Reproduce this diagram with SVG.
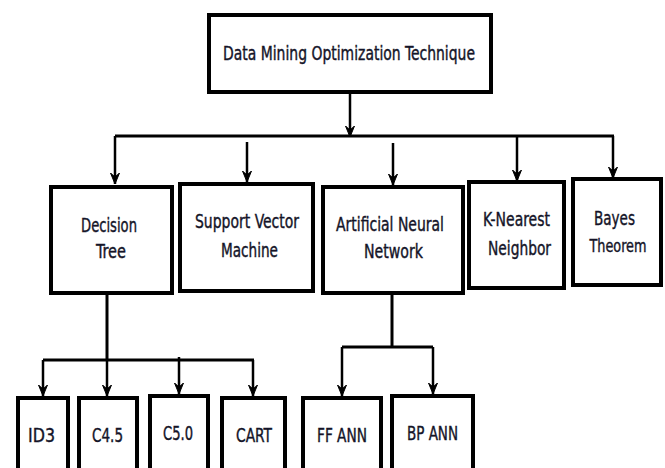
<svg xmlns="http://www.w3.org/2000/svg" width="665" height="468" viewBox="0 0 665 468">
<style>
.box{fill:#fff;stroke:#000;stroke-width:4}
.t{font-family:"DejaVu Sans Condensed","DejaVu Sans",sans-serif;font-size:20px;fill:#141428;text-anchor:middle;stroke:#141428;stroke-width:0.4}
.ln{fill:none;stroke:#000;stroke-width:3}
.ar{fill:none;stroke:#000;stroke-width:2.5;marker-end:url(#ah)}
</style>
<defs>
<marker id="ah" markerUnits="userSpaceOnUse" markerWidth="12" markerHeight="12" viewBox="0 -6 12 12" refX="11" refY="0" orient="auto">
<path d="M0,-4.5 L11,0 L0,4.5 L4,0 Z" fill="#000" stroke="#000" stroke-width="1"/>
</marker>
</defs>
<rect width="665" height="468" fill="#fff"/>
<g id="connectors">
<line class="ar" x1="350" y1="92" x2="350" y2="137"/>
<line class="ln" x1="115" y1="136" x2="614" y2="136"/>
<line class="ar" x1="115" y1="136" x2="115" y2="184"/>
<line class="ar" x1="247" y1="142" x2="247" y2="182"/>
<line class="ar" x1="393" y1="143" x2="393" y2="185"/>
<line class="ar" x1="517" y1="136" x2="517" y2="181"/>
<line class="ar" x1="613" y1="136" x2="613" y2="178"/>
<line class="ln" x1="107" y1="293" x2="107" y2="360"/>
<line class="ln" x1="43" y1="360" x2="254" y2="360"/>
<line class="ar" x1="43" y1="360" x2="43" y2="396"/>
<line class="ar" x1="107" y1="360" x2="107" y2="396"/>
<line class="ar" x1="179" y1="357" x2="179" y2="394"/>
<line class="ar" x1="253" y1="360" x2="253" y2="396"/>
<line class="ln" x1="392" y1="293" x2="392" y2="347"/>
<line class="ln" x1="342" y1="347" x2="433" y2="347"/>
<line class="ar" x1="342" y1="347" x2="342" y2="396"/>
<line class="ar" x1="433" y1="347" x2="433" y2="394"/>
</g>
<g id="root"><rect class="box" x="209" y="15" width="282" height="77"/><text class="t" x="349" y="60" textLength="252" lengthAdjust="spacingAndGlyphs">Data Mining Optimization Technique</text></g>
<g id="decision-tree"><rect class="box" x="51" y="187" width="121" height="106"/><text class="t" x="109" y="232" textLength="56" lengthAdjust="spacingAndGlyphs">Decision</text><text class="t" x="111" y="258" textLength="30" lengthAdjust="spacingAndGlyphs">Tree</text></g>
<g id="svm"><rect class="box" x="180" y="184" width="133" height="107"/><text class="t" x="247" y="228" textLength="104" lengthAdjust="spacingAndGlyphs">Support Vector</text><text class="t" x="249.5" y="257" textLength="57" lengthAdjust="spacingAndGlyphs">Machine</text></g>
<g id="ann"><rect class="box" x="323" y="187" width="140" height="106"/><text class="t" x="390" y="231" textLength="108" lengthAdjust="spacingAndGlyphs">Artificial Neural</text><text class="t" x="393.5" y="258" textLength="59" lengthAdjust="spacingAndGlyphs">Network</text></g>
<g id="knn"><rect class="box" x="469" y="182" width="95" height="106"/><text class="t" x="516.5" y="226" textLength="67" lengthAdjust="spacingAndGlyphs">K-Nearest</text><text class="t" x="519.5" y="255" textLength="63" lengthAdjust="spacingAndGlyphs">Neighbor</text></g>
<g id="bayes"><rect class="box" x="573" y="179" width="88" height="106"/><text class="t" x="614.5" y="225" textLength="41" lengthAdjust="spacingAndGlyphs">Bayes</text><text class="t" x="618" y="252" style="font-size:18px" textLength="57" lengthAdjust="spacingAndGlyphs">Theorem</text></g>
<g id="id3"><rect class="box" x="18" y="398" width="50" height="80"/><text class="t" x="41.5" y="442" textLength="27" lengthAdjust="spacingAndGlyphs">ID3</text></g>
<g id="c45"><rect class="box" x="79" y="398" width="58" height="80"/><text class="t" x="107.5" y="442" textLength="31" lengthAdjust="spacingAndGlyphs">C4.5</text></g>
<g id="c50"><rect class="box" x="150" y="396" width="58" height="82"/><text class="t" x="178" y="440" textLength="30" lengthAdjust="spacingAndGlyphs">C5.0</text></g>
<g id="cart"><rect class="box" x="222" y="398" width="63" height="80"/><text class="t" x="254" y="442" textLength="36" lengthAdjust="spacingAndGlyphs">CART</text></g>
<g id="ff-ann"><rect class="box" x="303" y="398" width="78" height="80"/><text class="t" x="342" y="442" textLength="50" lengthAdjust="spacingAndGlyphs">FF ANN</text></g>
<g id="bp-ann"><rect class="box" x="392" y="396" width="81" height="82"/><text class="t" x="432.5" y="440" textLength="51" lengthAdjust="spacingAndGlyphs">BP ANN</text></g>
</svg>
